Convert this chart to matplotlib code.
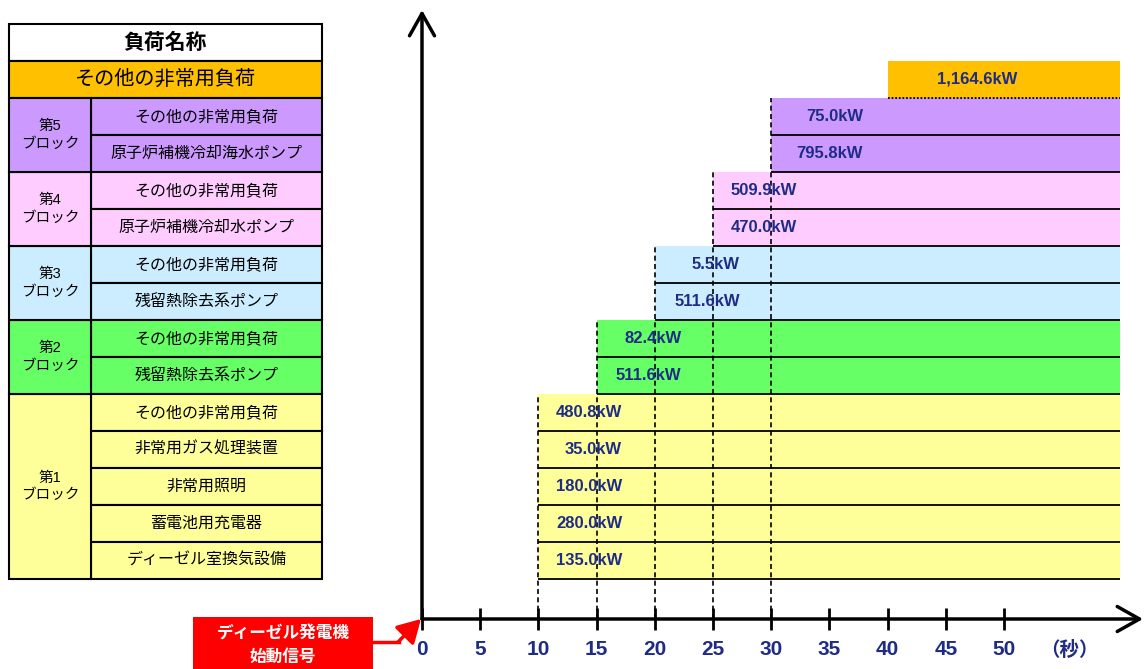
import numpy as np
import matplotlib.pyplot as plt
from matplotlib.patches import Rectangle, FancyArrowPatch
from matplotlib.lines import Line2D

plt.rcParams['font.family'] = ['Liberation Sans', 'Noto Sans CJK JP', 'DejaVu Sans']

# loads, top to bottom as listed in the table
load_names = ["その他の非常用負荷", "原子炉補機冷却海水ポンプ",
              "その他の非常用負荷", "原子炉補機冷却水ポンプ",
              "その他の非常用負荷", "残留熱除去系ポンプ",
              "その他の非常用負荷", "残留熱除去系ポンプ",
              "その他の非常用負荷", "非常用ガス処理装置", "非常用照明",
              "蓄電池用充電器", "ディーゼル室換気設備"]
load_kw = [75.0, 795.8, 509.9, 470.0, 5.5, 511.6, 82.4, 511.6,
           480.8, 35.0, 180.0, 280.0, 135.0]
load_block = [5, 5, 4, 4, 3, 3, 2, 2, 1, 1, 1, 1, 1]
block_start = [10, 15, 20, 25, 30]   # blocks 1..5, seconds
other_name = "その他の非常用負荷"
other_kw = 1164.6
other_start = 40
end_time = 60
time_ticks = list(range(0, 55, 5))

block_colors = ["#FFFF99", "#66FF66", "#CCECFF", "#FFCCFF", "#CC99FF"]
other_color = "#FFC000"
navy = "#1F2C86"

W, H = 1145, 669
fig = plt.figure(figsize=(W / 100, H / 100), dpi=100)

px_per_s = 11.64
row_px = 37
ybot, ytop = -40 / row_px, 579 / row_px

ax = fig.add_axes([422 / W, 50 / H, (W - 422) / W, 619 / H])
ax.set_xlim(0, (W - 422) / px_per_s)
ax.set_ylim(ybot, ytop)
for s in ax.spines.values():
    s.set_visible(False)
ax.set_yticks([])

n = len(load_names)
label_right = [17.2, 22.3, 27.3, 32.2, 37.9]
for i, (name, kw, b) in enumerate(zip(load_names, load_kw, load_block)):
    y = n - 1 - i
    start = block_start[b - 1]
    ax.barh(y, end_time - start, left=start, height=1, align='edge',
            color=block_colors[b - 1], lw=0, zorder=1)
    ax.hlines(y, start, end_time, color='black', lw=1.3, zorder=2)
    ax.text(label_right[b - 1], y + 0.5, f"{kw:,.1f}kW", ha='right', va='center',
            fontsize=12, fontweight='bold', color=navy, zorder=4)

ax.barh(n, end_time - other_start, left=other_start, height=1, align='edge',
        color=other_color, lw=0, zorder=1)
ax.hlines(n, other_start, end_time, color='black', lw=1.3, linestyles=(0, (1, 1)), zorder=2)
ax.text(47.7, n + 0.5, f"{other_kw:,.1f}kW", ha='center', va='center',
        fontsize=12, fontweight='bold', color=navy, zorder=4)

# dashed start lines for each block
for b, start in enumerate(block_start, start=1):
    top = max(n - 1 - i for i, bb in enumerate(load_block) if bb == b) + 1
    ax.vlines(start, ybot, top, color='black', lw=1.2, linestyles=(0, (3, 2)), zorder=3)

# axes with arrows
arrow_kw = dict(arrowstyle='->,head_length=0.8,head_width=0.45', lw=2.5, color='black',
                shrinkA=0, shrinkB=0, mutation_scale=20)
ax.annotate('', xy=(0, ytop - 10 / row_px), xytext=(0, ybot), arrowprops=arrow_kw,
            annotation_clip=False, zorder=5)
ax.annotate('', xy=((1143 - 422) / px_per_s, ybot), xytext=(0, ybot), arrowprops=arrow_kw,
            annotation_clip=False, zorder=5)

ax.set_xticks(time_ticks)
ax.set_xticklabels([str(t) for t in time_ticks])
ax.tick_params(axis='x', direction='inout', length=16, width=2, pad=7,
               labelsize=15, labelcolor=navy)
for lab in ax.get_xticklabels():
    lab.set_fontweight('bold')
ax.text(55.6, ybot - 31 / row_px, "（秒）", ha='center', va='center', fontsize=14,
        fontweight='bold', color=navy, family=['Noto Sans CJK JP'])

# table on the left
tax = fig.add_axes([0, 50 / H, 422 / W, 619 / H])
tax.set_xlim(0, 422)
tax.set_ylim(ybot, ytop)
tax.axis('off')
x0, x1, x2 = 9, 91, 322

tax.add_patch(Rectangle((x0, n + 1), x2 - x0, 1, fc='white', ec='black', lw=1.5))
tax.text((x0 + x2) / 2, n + 1.5, "負荷名称", ha='center', va='center',
         fontsize=15, fontweight='bold')
tax.add_patch(Rectangle((x0, n), x2 - x0, 1, fc=other_color, ec='black', lw=1.5))
tax.text((x0 + x2) / 2, n + 0.5, other_name, ha='center', va='center', fontsize=14.5)

for i, (name, b) in enumerate(zip(load_names, load_block)):
    y = n - 1 - i
    tax.add_patch(Rectangle((x1, y), x2 - x1, 1, fc=block_colors[b - 1], ec='black', lw=1.5))
    tax.text((x1 + x2) / 2, y + 0.5, name, ha='center', va='center', fontsize=11.5)

for b in range(1, 6):
    ys = [n - 1 - i for i, bb in enumerate(load_block) if bb == b]
    lo, hi = min(ys), max(ys) + 1
    tax.add_patch(Rectangle((x0, lo), x1 - x0, hi - lo, fc=block_colors[b - 1],
                            ec='black', lw=1.5))
    tax.text((x0 + x1) / 2, (lo + hi) / 2, f"第{b}\nブロック", ha='center', va='center',
             fontsize=10.5, linespacing=1.3)

# start signal box and arrow
def fx(px):
    return px / W


def fy(py):
    return 1 - py / H


fig.add_artist(Rectangle((fx(193), 0), (373 - 193) / W, 52 / H, transform=fig.transFigure,
                         fc='#FF0000', ec='none'))
fig.text(fx(283), fy(633), "ディーゼル発電機", ha='center', va='center', color='white',
         fontsize=12, fontweight='bold')
fig.text(fx(283), fy(657), "始動信号", ha='center', va='center', color='white',
         fontsize=12, fontweight='bold')
fig.add_artist(Line2D([fx(373), fx(399)], [fy(642), fy(642)], transform=fig.transFigure,
                      color='#FF0000', lw=2.5))
fig.add_artist(FancyArrowPatch((fx(398), fy(642)), (fx(421), fy(619)), transform=fig.transFigure,
                               arrowstyle='-|>,head_length=0.7,head_width=0.4', mutation_scale=20,
                               color='#FF0000', lw=2.5, shrinkA=0, shrinkB=0))

fig.savefig('out.png', dpi=100)
